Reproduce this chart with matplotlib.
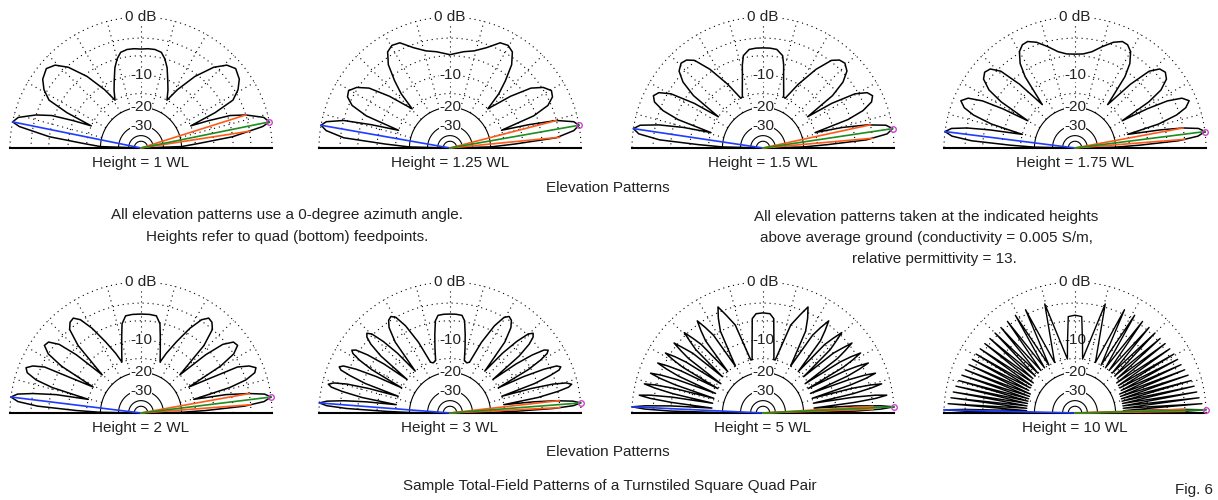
import numpy as np
import matplotlib
matplotlib.use('Agg')
import matplotlib.pyplot as plt

# ----------------------------
# Figure size (pixels) and fonts
# ----------------------------
W, H = 1218, 500
plt.rcParams['font.family'] = ['Liberation Sans', 'DejaVu Sans']
TXT = '#222222'

# ----------------------------
# Data: right half of each elevation pattern (elevation deg, gain dB)
# left half is the mirror image
# ----------------------------
heights = ['1', '1.25', '1.5', '1.75', '2', '3', '5', '10']

elev_1wl = [0, 2, 4.5, 7, 10, 11.5, 14, 17.5, 20, 22,
            24, 25.5, 27.5, 31, 35, 40, 44, 48, 53, 58,
            61.5, 65, 68.5, 72, 75, 78, 82, 86, 90]
gain_1wl = [-99, -20, -14, -6, -1, 0, -0.6, -3, -5.5, -10,
            -15, -8, -4, -2.5, -1.5, -1, -1.6, -3.2, -6.5, -11,
            -15, -12.3, -10, -7.5, -6, -5, -4.7, -4.7, -4.8]

elev_125wl = [0, 1.5, 3.5, 5.5, 8, 10, 12, 14.5, 16.5, 19,
              21, 23.5, 26.5, 29.5, 33, 36.5, 40.5, 46,
              48, 50.5, 53.5, 57, 60.5, 64.5, 70, 76, 82, 90]
gain_125wl = [-99, -20, -12, -3.5, -0.8, 0, -0.6, -3, -8, -15,
              -6.5, -3.5, -2.3, -2, -2.8, -4.5, -8.5, -15,
              -10, -7, -4, -2.3, -1.8, -2, -3.5, -4.6, -5.1, -5.8]

elev_15wl = [0, 1.5, 3, 4.5, 6.5, 8.5, 10.5, 12.5, 14.5, 16.5,
             18.5, 20.5, 23, 25.5, 28, 30.5, 33, 35,
             37, 39.5, 42.5, 46, 49, 52, 56, 61, 66,
             68, 70, 72, 74, 76, 78, 82, 86, 90]
gain_15wl = [-99, -20, -12, -4, -0.8, 0, -0.8, -3.5, -8, -15,
             -6.5, -3.5, -1.8, -1.3, -1.8, -3.5, -8, -15,
             -7, -4, -2.4, -1.8, -2, -2.8, -5.5, -10, -15,
             -14.8, -13.2, -11.5, -9.6, -7.3, -5.6, -4.7, -4.6, -4.6]

elev_175wl = [0, 1.2, 2.5, 4, 5.5, 7.2, 9, 10.5, 12, 14.5,
              16, 18, 20, 22.5, 25, 27, 28.5, 30,
              32, 34, 37, 40, 43, 46, 49, 53,
              55, 57, 60, 63, 66, 70, 75, 80, 85, 90]
gain_175wl = [-99, -20, -12, -4, -1, 0, -0.8, -3, -7, -15,
              -7, -3.5, -1.8, -1, -1.8, -4, -8, -15,
              -7, -4, -2.3, -1.8, -2.1, -3.5, -7.5, -15,
              -7, -4.5, -2.8, -2.1, -2, -2.6, -3.8, -5, -5.6, -5.7]

elev_2wl = [0, 1, 2.2, 3.8, 5.3, 7, 8.7, 10.2, 12.2, 14.5,
            16, 17.5, 19.5, 21.5, 23.5, 25.5, 28.5,
            30.5, 32.5, 35, 37.5, 40, 42, 44.5,
            47, 49.5, 52, 54.5, 57, 60, 63.5, 67, 69.5,
            72, 74, 76, 78, 81, 85, 90]
gain_2wl = [-99, -20, -12, -4, -1, 0, -0.8, -3, -7, -15,
            -6, -3, -1.4, -1, -1.8, -3.5, -15,
            -6, -3, -1.8, -2, -3.5, -7, -15,
            -6, -3, -2.2, -2, -2.8, -5, -8.5, -12, -15,
            -12.7, -10.7, -8.5, -6.2, -4.9, -4.8, -4.8]

elev_3wl = [0, 0.7, 1.5, 2.5, 3.4, 4.4, 5.5, 6.6, 7.6, 8.8,
            10.0, 11.3, 12.3, 13.3, 14.5, 15.7, 16.8, 17.9,
            19.2, 20.5, 21.5, 22.6, 23.8, 25.0, 26.3, 27.5,
            29.0, 30.3, 31.5, 32.6, 33.8, 35.2, 36.6, 38.0,
            39.5, 41.0, 42.4, 43.8, 45.3, 47.0, 48.7, 50.3,
            52.3, 54.5, 56.5, 58.5, 60.5, 63.0, 66.0, 69.0,
            71.5, 74.7, 77.0, 79.0, 81.0, 83.0, 86.5, 90]
gain_3wl = [-99, -20, -12, -4, -1, 0, -1, -3.5, -7.5, -15,
            -6.5, -3, -1.3, -0.8, -1.5, -3.5, -7.5, -15,
            -6.5, -3.5, -1.9, -1.5, -2, -4, -8, -15,
            -6.5, -3.8, -2.4, -2.0, -2.5, -4.5, -8, -15,
            -6.5, -3.8, -2.6, -2.2, -2.8, -5, -8.5, -15,
            -6.5, -3.8, -2.8, -2.5, -3.0, -5, -9, -15,
            -15.5, -15, -11.5, -8.5, -5.8, -4.9, -4.8, -4.8]

elev_5wl = [0, 0.5, 1.2, 1.9, 2.7, 3.5, 4.4, 5.5,
            6.6, 7.4, 8.2, 9.0, 9.9, 11.0,
            12.1, 13.0, 13.8, 14.6, 15.5, 16.6,
            17.8, 18.6, 19.5, 20.4, 21.2, 22.4,
            23.6, 24.5, 25.4, 26.3, 27.2, 28.4,
            29.7, 30.6, 31.6, 32.6, 33.5, 34.8,
            36.2, 37.2, 38.2, 39.2, 40.4, 41.8,
            43.3, 44.5, 45.6, 46.8, 48.0, 49.6,
            51.5, 53.0, 54.5, 56.0, 57.5, 59.5,
            62.5, 64.8, 67.0, 69.3, 72.5, 77.0,
            78.5, 80.0, 82.0, 83.5, 86.0, 90]
gain_5wl = [-99, -20, -6, -1.8, 0, -1.8, -6, -16,
            -6, -2.4, -0.8, -2.4, -6, -16,
            -6, -2.8, -1.2, -2.8, -6, -16,
            -6, -3.2, -1.6, -3.2, -6, -16,
            -6, -3.6, -2.0, -3.6, -6, -16,
            -6, -3.9, -2.3, -3.9, -6, -16,
            -6, -4.1, -2.5, -4.1, -6, -15,
            -6, -4.2, -2.6, -4.2, -6, -15,
            -6, -4.1, -2.5, -4.1, -6, -15,
            -6, -3.8, -2.2, -3.8, -6, -15,
            -15, -12.5, -8.8, -5.5, -4.7, -4.6]

elev_10wl = [0, 0.4, 0.9, 1.4, 1.9, 2.8,
             4.2, 5.6, 7.0, 8.4, 9.8, 11.3, 12.7, 14.1, 15.6, 17.0,
             18.5, 20.0, 21.5, 23.0, 24.5, 26.0, 27.6, 29.2, 30.8, 32.3,
             34.1, 35.8, 37.6, 39.3, 41.2, 43.0, 45.0, 47.0, 49.1, 51.3,
             53.6, 56.0, 58.6, 61.4, 64.4, 68.0, 74.5, 82.0,
             84.0, 86.0, 90]
gain_10wl = [-99, -15, -3, 0, -3, -17,
             -0.5, -17, -0.8, -17, -1.0, -17, -1.2, -17, -1.4, -17,
             -1.6, -17, -1.8, -17, -2.0, -16, -2.1, -16, -2.2, -16,
             -2.3, -16, -2.4, -15, -2.5, -15, -2.5, -15, -2.5, -15,
             -2.4, -15, -2.3, -15, -2.3, -15, -2.5, -15,
             -10.3, -5.2, -5.0]

patterns = [(elev_1wl, gain_1wl), (elev_125wl, gain_125wl),
            (elev_15wl, gain_15wl), (elev_175wl, gain_175wl),
            (elev_2wl, gain_2wl), (elev_3wl, gain_3wl),
            (elev_5wl, gain_5wl), (elev_10wl, gain_10wl)]
pattern_lw = [1.1, 1.1, 1.1, 1.1, 1.1, 1.1, 1.1, 1.0]

# cursor lines: max gain elevation and the two -3 dB angles
max_elev = [11.5, 10, 8.5, 7.2, 7, 4.4, 2.7, 1.4]
hp_low = [8.8, 5.6, 5.1, 4.5, 4.3, 2.8, 2.0, 0.9]
hp_high = [17.5, 14.5, 12.2, 10.5, 10.2, 6.5, 3.4, 1.9]

ring_db = [0, -3, -6, -10, -15, -20, -30, -40, -50]
ring_text = {0: '0 dB', -10: '-10', -20: '-20', -30: '-30'}

# ----------------------------
# Layout (pixels)
# ----------------------------
centers_x = [141, 450, 763, 1075]
ground_y = [148, 413]
R = 131
RMIN = -100


def arrl(db):
    # ARRL log-periodic scale: 0.89 per 2 dB
    return 0.89 ** (-np.asarray(db, dtype=float) / 2.0)


def arrl_inv(r):
    return -2.0 * np.log(np.clip(r, 1e-12, None)) / np.log(0.89)


fig = plt.figure(figsize=(W / 100, H / 100), dpi=100)
th_ring = np.linspace(0, np.pi, 361)

for i, (el, g) in enumerate(patterns):
    row, col = divmod(i, 4)
    cx, gy = centers_x[col], ground_y[row]
    ax = fig.add_axes([(cx - R) / W, 1 - (gy + R) / H, 2 * R / W, 2 * R / H],
                      projection='polar')
    ax.set_rscale('function', functions=(arrl, arrl_inv))
    ax.set_rlim(RMIN, 0)
    ax.set_axis_off()

    # grid rings
    for db in ring_db:
        ls = (0, (1, 3.5)) if db > -17 else '-'
        ax.plot(th_ring, np.full_like(th_ring, db), color='k', lw=0.8,
                ls=ls, clip_on=False, zorder=1)
    # radial spokes
    for a in np.radians(np.arange(15, 180, 15)):
        ax.plot([a, a], [-20, 0], color='k', lw=0.8, ls=(0, (1, 3.5)),
                clip_on=False, zorder=1)
    # ring labels
    for db, s in ring_text.items():
        ax.text(np.pi / 2, db, s, ha='center', va='center', fontsize=11,
                color=TXT, zorder=2,
                bbox=dict(fc='white', ec='none', pad=0.3))

    # ground line
    ax.plot([0, 0, np.pi, np.pi], [0, RMIN, RMIN, 0], color='k', lw=1.5,
            clip_on=False, zorder=2.5)

    # pattern, mirrored about the zenith
    el = np.asarray(el, dtype=float)
    g = np.asarray(g, dtype=float)
    full_el = np.concatenate([el, 180 - el[::-1][1:]])
    full_g = np.concatenate([g, g[::-1][1:]])
    ax.plot(np.radians(full_el), full_g, color='k', lw=pattern_lw[i],
            clip_on=False, zorder=3)

    # cursor lines
    t0 = np.radians(max_elev[i])
    ax.plot([np.pi - t0, np.pi - t0], [RMIN, 0], color='#1f3cff', lw=1.2,
            clip_on=False, zorder=4)
    for t in (hp_low[i], hp_high[i]):
        ax.plot([np.radians(t)] * 2, [RMIN, -3], color='#ff5a1a', lw=1.2,
                clip_on=False, zorder=4)
    ax.plot([t0, t0], [RMIN, 0], color='#1e8c1e', lw=1.2,
            clip_on=False, zorder=4.5)
    ax.plot([t0], [0], marker='o', ms=4, mfc='none', mec='#cc44cc',
            mew=1, clip_on=False, zorder=5)

    fig.text(cx / W, 1 - (gy + 15) / H, f'Height = {heights[i]} WL',
             ha='center', va='center', fontsize=11, color=TXT)

# ----------------------------
# Captions
# ----------------------------
def ptext(x, y, s, **kw):
    fig.text(x / W, 1 - y / H, s, va='center', fontsize=11, color=TXT, **kw)


ptext(608, 188, 'Elevation Patterns', ha='center')
ptext(608, 452, 'Elevation Patterns', ha='center')
ptext(287, 215, 'All elevation patterns use a 0-degree azimuth angle.', ha='center')
ptext(287, 237, 'Heights refer to quad (bottom) feedpoints.', ha='center')
ptext(926, 217, 'All elevation patterns taken at the indicated heights', ha='center')
ptext(926, 238, 'above average ground (conductivity = 0.005 S/m,', ha='center')
ptext(934, 259, 'relative permittivity = 13.', ha='center')
ptext(610, 486, 'Sample Total-Field Patterns of a Turnstiled Square Quad Pair', ha='center')
ptext(1213, 490, 'Fig. 6', ha='right')

fig.savefig('out.png', dpi=100)
